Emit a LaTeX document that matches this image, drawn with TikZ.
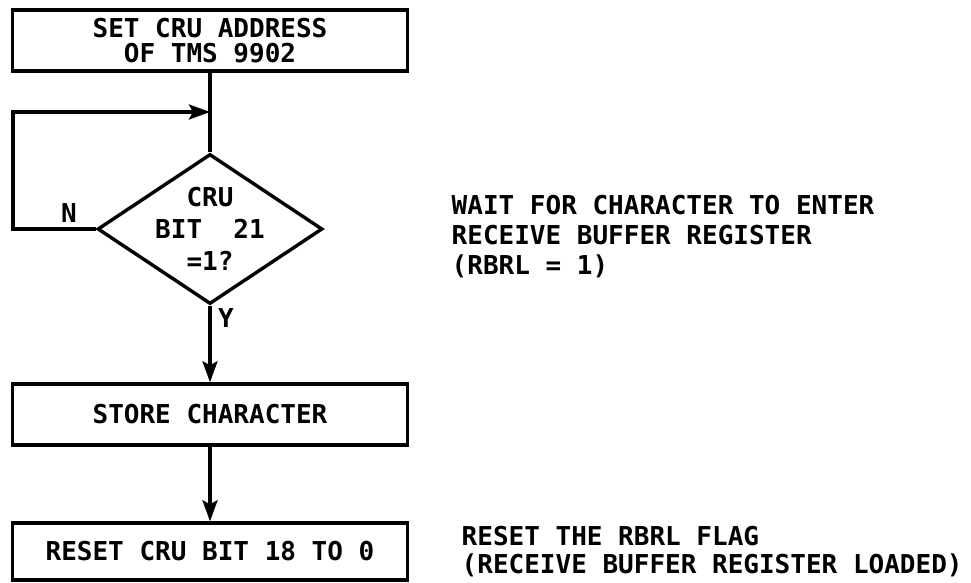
\documentclass[tikz,border=0pt]{standalone}
\usepackage{fontspec}
\setmainfont{DejaVu Sans Mono}
\usetikzlibrary{shapes.geometric,arrows.meta}
\begin{document}
\begin{tikzpicture}[x=1pt,y=-1pt,
  line width=3.4pt,
  every node/.style={font=\fontsize{26}{30}\selectfont\bfseries},
  procbox/.style={draw,rectangle,minimum width=395pt,inner sep=0pt},
  decbox/.style={draw,diamond,minimum width=225pt,minimum height=150pt,inner sep=0pt},
  arr/.style={-{Stealth[length=21pt,width=15pt,inset=4pt]}},
  note/.style={anchor=west,align=left,inner sep=0pt}]
\useasboundingbox (0,0) rectangle (971,583);
\node[procbox,minimum height=61pt,align=center,font=\fontsize{26}{25}\selectfont\bfseries] (top) at (210,40.5) {SET CRU ADDRESS\\OF TMS 9902};
\node[decbox] (d) at (210,229) {};
\node[align=center,font=\fontsize{26}{32}\selectfont\bfseries,inner sep=0pt] (dt) at (d.center) {CRU\\BIT\ \ 21\\=1?};
\node[procbox,minimum height=61pt] (store) at (210,414.5) {STORE CHARACTER};
\node[procbox,minimum height=57pt] (reset) at (210,551.5) {RESET CRU BIT 18 TO 0};
\coordinate (j) at (210,112);
\coordinate (l1) at (13,229);
\coordinate (l2) at (13,112);
\draw (top.south) -- (d.north);
\draw[arr] (d.west) -- (l1) -- (l2) -- (j);
\draw[arr] (d.south) -- (store.north);
\draw[arr] (store.south) -- (reset.north);
\node (n) at (69,213) {N};
\node (y) at (226,318) {Y};
\node[note,font=\fontsize{26}{30}\selectfont\bfseries] (w) at (450,237) {WAIT FOR CHARACTER TO ENTER\\RECEIVE BUFFER REGISTER\\(RBRL = 1)};
\node[note,font=\fontsize{26}{28}\selectfont\bfseries] (r) at (460,552) {RESET THE RBRL FLAG\\(RECEIVE BUFFER REGISTER LOADED)};
\end{tikzpicture}
\end{document}
